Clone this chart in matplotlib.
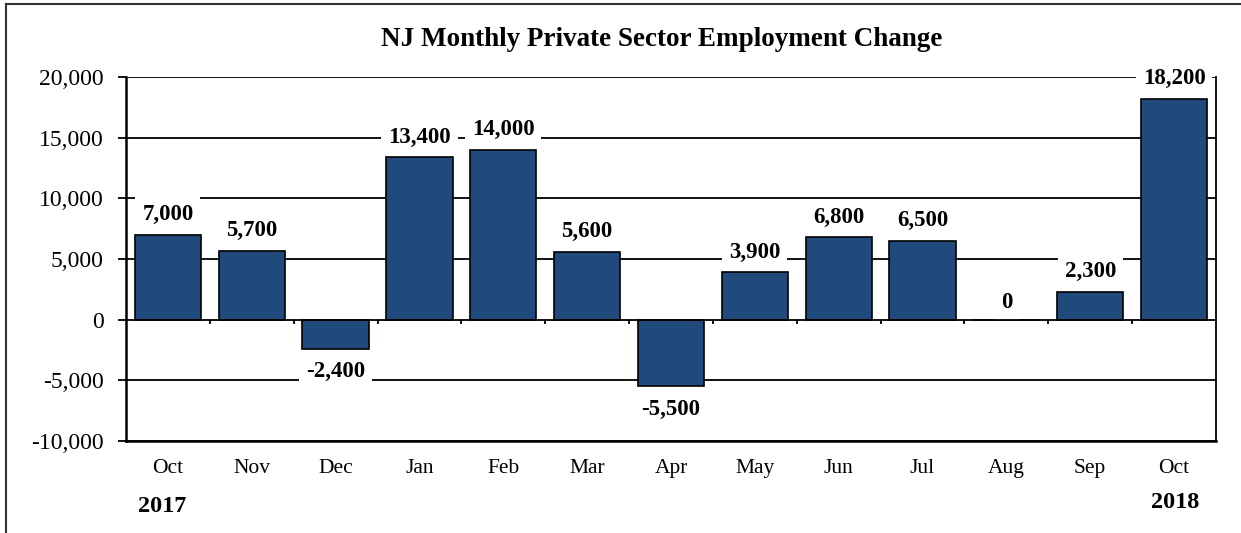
import matplotlib
matplotlib.use("Agg")
import matplotlib.pyplot as plt
from matplotlib.lines import Line2D

plt.rcParams["font.family"] = ["Liberation Serif", "DejaVu Serif"]

# ------------------------------------------------------------
# Data
# ------------------------------------------------------------
months = ["Oct", "Nov", "Dec", "Jan", "Feb", "Mar", "Apr",
          "May", "Jun", "Jul", "Aug", "Sep", "Oct"]
change = [7000, 5700, -2400, 13400, 14000, 5600, -5500,
          3900, 6800, 6500, 0, 2300, 18200]
years = ["2017", "2018"]
y_ticks = [-10000, -5000, 0, 5000, 10000, 15000, 20000]

BAR_COLOR = "#214A7C"

fig = plt.figure(figsize=(12.41, 5.33), dpi=100)
ax = fig.add_axes([126 / 1241, 92 / 533, 1090 / 1241, 364 / 533])

x = list(range(len(months)))
ax.bar(x, change, width=0.79, color=BAR_COLOR, edgecolor="black",
       linewidth=1.2, zorder=3)

ax.set_xlim(-0.5, len(months) - 0.5)
ax.set_ylim(-10000, 20000)
ax.set_yticks(y_ticks)
ax.set_yticklabels([f"{v:,}" for v in y_ticks], fontsize=17)
for v in y_ticks:
    # zero line sits above the label boxes, the others are cut by them
    ax.axhline(v, color="black", linewidth=1.3, zorder=5 if v == 0 else 1)

ax.set_xticks(x)
ax.set_xticklabels(months, fontsize=15.5)
ax.tick_params(axis="x", length=0, pad=13)
ax.tick_params(axis="y", length=6, width=1.3, direction="out", pad=10)

for side in ["left", "bottom"]:
    ax.spines[side].set_linewidth(1.8)
ax.spines["right"].set_linewidth(1.3)
ax.spines["top"].set_visible(False)

# small category separator ticks on the zero line
ax.vlines([i + 0.5 for i in x[:-1]], -330, 0, color="black",
          linewidth=1.3, zorder=2)

# value labels with white boxes cutting the gridlines
for xi, v in zip(x, change):
    if v > 0:
        y = v + 1650
    elif v < 0:
        y = v - 1900
    else:
        y = 1400
    ax.text(xi, y, f"{v:,}", ha="center", va="center", fontsize=16.5,
            fontweight="bold", zorder=4,
            bbox=dict(facecolor="white", edgecolor="none", pad=5))

fig.text(662 / 1241, 1 - 40 / 533,
         "NJ Monthly Private Sector Employment Change",
         ha="center", va="center", fontsize=19.5, fontweight="bold")

fig.text(162 / 1241, 1 - 507 / 533, years[0], ha="center", va="center",
         fontsize=17.5, fontweight="bold")
fig.text(1175 / 1241, 1 - 503 / 533, years[1], ha="center", va="center",
         fontsize=17.5, fontweight="bold")

# outer frame (left and top edges)
fig.add_artist(Line2D([6 / 1241, 6 / 1241], [0, 1 - 4 / 533],
                      transform=fig.transFigure, color="#333333", linewidth=1.5))
fig.add_artist(Line2D([6 / 1241, 1], [1 - 4 / 533, 1 - 4 / 533],
                      transform=fig.transFigure, color="#333333", linewidth=1.5))

fig.savefig("out.png", dpi=100)
